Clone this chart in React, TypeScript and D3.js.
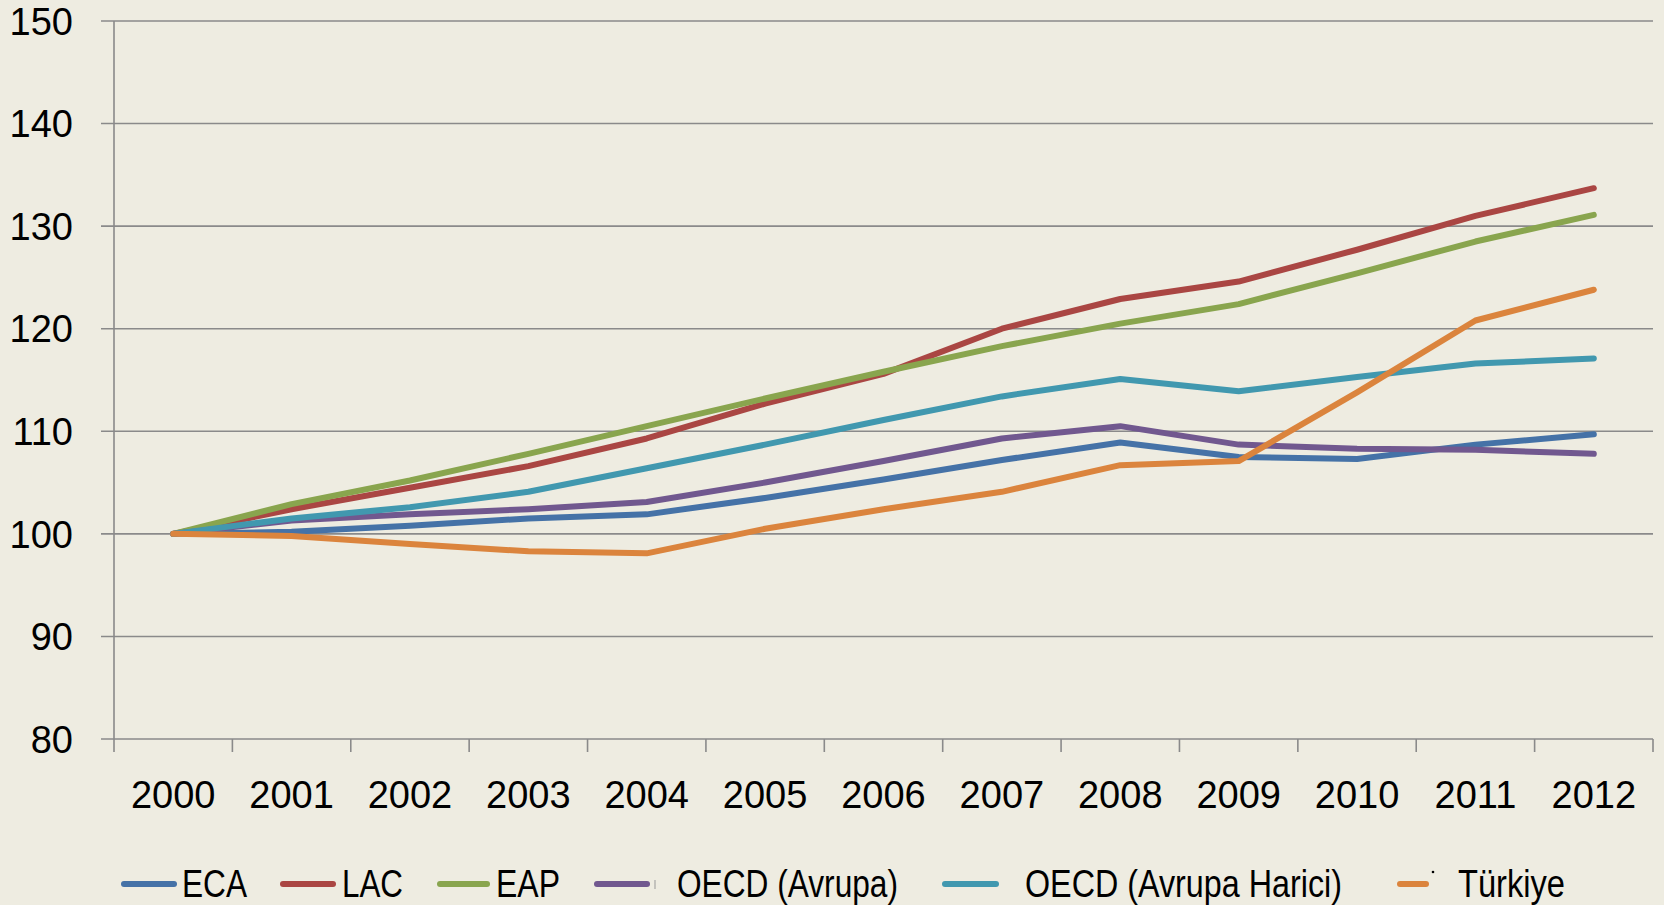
import React, { useEffect, useRef } from 'react';
import * as d3 from 'd3';

const years = ['2000', '2001', '2002', '2003', '2004', '2005', '2006', '2007', '2008', '2009', '2010', '2011', '2012'];

const eca = [100, 100.2, 100.8, 101.5, 101.9, 103.5, 105.3, 107.2, 108.9, 107.5, 107.3, 108.7, 109.7];
const lac = [100, 102.4, 104.5, 106.6, 109.3, 112.7, 115.6, 120.0, 122.9, 124.6, 127.7, 131.0, 133.7];
const eap = [100, 102.9, 105.2, 107.8, 110.5, 113.2, 115.8, 118.3, 120.5, 122.4, 125.4, 128.5, 131.1];
const oecdEurope = [100, 101.3, 101.9, 102.4, 103.1, 105.0, 107.1, 109.3, 110.5, 108.7, 108.3, 108.2, 107.8];
const oecdNonEurope = [100, 101.5, 102.6, 104.1, 106.4, 108.7, 111.1, 113.4, 115.1, 113.9, 115.3, 116.6, 117.1];
const turkey = [100, 99.8, 99.0, 98.3, 98.1, 100.5, 102.4, 104.1, 106.7, 107.1, 113.8, 120.8, 123.8];

const seriesNames = ['ECA', 'LAC', 'EAP', 'OECD (Avrupa)', 'OECD (Avrupa Harici)', 'Türkiye'];
const seriesValues = [eca, lac, eap, oecdEurope, oecdNonEurope, turkey];
const colors = ['#4572A7', '#AA4643', '#89A54E', '#71588F', '#4198AF', '#DB843D'];

const yTicks = [80, 90, 100, 110, 120, 130, 140, 150];

// legend layout (Excel spaced these unevenly; text is condensed Calibri)
const legendLineX = [121, 280, 437, 594, 942, 1397];
const legendLineLen = [56, 56, 53, 56, 57, 32];
const legendTextX = [182, 342, 496, 677, 1025, 1458];
const legendTextW = [65, 61, 64, 221, 317, 107];

const W = 1664;
const H = 905;

const App: React.FC = () => {
  const ref = useRef<SVGSVGElement>(null);

  useEffect(() => {
    document.body.style.margin = '0';
    if (!ref.current) return;
    const svg = d3.select(ref.current);
    svg.selectAll('*').remove();

    const left = 114, right = 1653, top = 21, bottom = 739;
    const font = '"Liberation Sans", Arial, sans-serif';

    svg.append('rect').attr('width', W).attr('height', H).attr('fill', '#EEECE1');

    const x = d3.scaleBand().domain(years).range([left, right]);
    const y = d3.scaleLinear().domain([80, 150]).range([bottom, top]);

    // gridlines + y ticks
    const grid = svg.append('g');
    grid.selectAll('line')
      .data(yTicks)
      .join('line')
      .attr('x1', left - 13)
      .attr('x2', right)
      .attr('y1', d => y(d))
      .attr('y2', d => y(d))
      .attr('stroke', '#8a8a8a')
      .attr('stroke-width', 1.6);

    grid.selectAll('text')
      .data(yTicks)
      .join('text')
      .attr('x', 73)
      .attr('y', d => y(d))
      .attr('dy', '0.36em')
      .attr('text-anchor', 'end')
      .attr('font-family', font)
      .attr('font-size', 38)
      .attr('fill', '#000')
      .text(d => d);

    // y axis line
    svg.append('line')
      .attr('x1', left).attr('x2', left)
      .attr('y1', top).attr('y2', bottom + 13)
      .attr('stroke', '#8a8a8a').attr('stroke-width', 1.6);

    // x ticks between categories
    const tickPos = years.map(d => (x(d) as number) + x.bandwidth()).slice(0, -1);
    svg.append('g')
      .selectAll('line')
      .data([...tickPos, right])
      .join('line')
      .attr('x1', d => d).attr('x2', d => d)
      .attr('y1', bottom).attr('y2', bottom + 13)
      .attr('stroke', '#8a8a8a').attr('stroke-width', 1.6);

    svg.append('g')
      .selectAll('text')
      .data(years)
      .join('text')
      .attr('x', d => (x(d) as number) + x.bandwidth() / 2)
      .attr('y', 808)
      .attr('text-anchor', 'middle')
      .attr('font-family', font)
      .attr('font-size', 38)
      .attr('fill', '#000')
      .text(d => d);

    // series
    const line = d3.line<number>()
      .x((_, i) => (x(years[i]) as number) + x.bandwidth() / 2)
      .y(d => y(d));

    svg.append('g')
      .selectAll('path')
      .data(seriesValues)
      .join('path')
      .attr('d', d => line(d))
      .attr('fill', 'none')
      .attr('stroke', (_, i) => colors[i])
      .attr('stroke-width', 6)
      .attr('stroke-linejoin', 'round')
      .attr('stroke-linecap', 'round');

    // legend
    const legendY = 884;
    const lg = svg.append('g');
    seriesNames.forEach((name, i) => {
      lg.append('line')
        .attr('x1', legendLineX[i] + 3)
        .attr('x2', legendLineX[i] + legendLineLen[i] - 3)
        .attr('y1', legendY).attr('y2', legendY)
        .attr('stroke', colors[i])
        .attr('stroke-width', 6)
        .attr('stroke-linecap', 'round');
      lg.append('text')
        .attr('x', legendTextX[i])
        .attr('y', 897)
        .attr('font-family', font)
        .attr('font-size', 38)
        .attr('textLength', legendTextW[i])
        .attr('lengthAdjust', 'spacingAndGlyphs')
        .attr('fill', '#000')
        .text(name);
    });
    // small stray marks in the original legend
    lg.append('line')
      .attr('x1', 655).attr('x2', 655).attr('y1', 880).attr('y2', 889)
      .attr('stroke', '#999').attr('stroke-width', 1);
    lg.append('circle')
      .attr('cx', 1433).attr('cy', 872).attr('r', 1.3).attr('fill', '#000');
  }, []);

  return <svg ref={ref} width={W} height={H} style={{ display: 'block' }} />;
};

export default App;
